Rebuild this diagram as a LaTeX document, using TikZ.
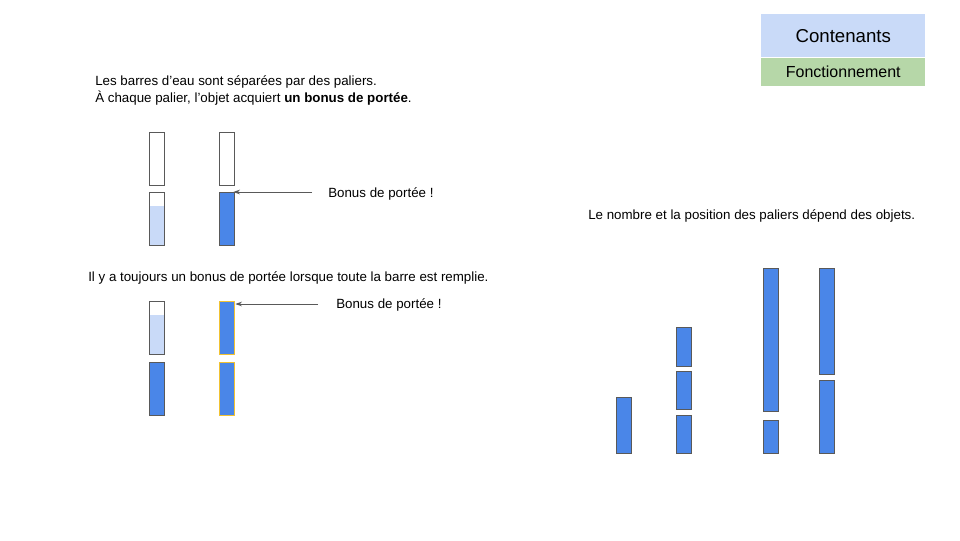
\documentclass[tikz,border=0pt]{standalone}
\usepackage{fontspec}
\setmainfont{Liberation Sans}
\usetikzlibrary{arrows.meta}
\definecolor{barblue}{HTML}{4A86E8}
\definecolor{lightblue}{HTML}{C9DAF8}
\definecolor{lightgreen}{HTML}{B6D7A8}
\definecolor{rim}{HTML}{595959}
\definecolor{gold}{HTML}{F1C232}
\begin{document}
\begin{tikzpicture}[x=0.75pt,y=-0.75pt,
  bar/.style={draw=rim,line width=1pt,rectangle,inner sep=0pt,anchor=north west,minimum width=11.25pt},
  full/.style={bar,fill=barblue},
  gilded/.style={full,draw=gold},
  txt/.style={font=\fontsize{10}{12.75}\selectfont,inner sep=0pt,anchor=west},
  ptr/.style={-{Stealth[length=5pt,width=3.5pt]},draw=rim,line width=0.6pt}]
\useasboundingbox (0,0) rectangle (960,540);
% legend
\node[fill=lightblue,anchor=north west,minimum width=164*0.75pt,minimum height=43*0.75pt,font=\fontsize{14}{16}\selectfont] (cont) at (761,14) {Contenants};
\node[fill=lightgreen,anchor=north,minimum width=164*0.75pt,minimum height=28*0.75pt,font=\fontsize{12}{14}\selectfont] (fonc) at (cont.south) {Fonctionnement};
% texts
\node[txt,align=left] (intro) at (95,90.5) {Les barres d’eau sont séparées par des paliers.\\À chaque palier, l’objet acquiert \textbf{un bonus de portée}.};
\node[txt] (bonus1) at (328,194) {Bonus de portée !};
\node[txt] (rule) at (88,278) {Il y a toujours un bonus de portée lorsque toute la barre est remplie.};
\node[txt] (bonus2) at (336,305) {Bonus de portée !};
\node[txt] (depend) at (588,216) {Le nombre et la position des paliers dépend des objets.};
% first pair
\fill[lightblue] (149,206) rectangle (164,245);
\node[bar,minimum height=53*0.75pt] (A1) at (149,132) {};
\node[bar,minimum height=53*0.75pt] (A2) at (149,192) {};
\node[bar,minimum height=53*0.75pt] (B1) at (219,132) {};
\node[full,minimum height=53*0.75pt] (B2) at (219,192) {};
% second pair
\fill[lightblue] (149,315) rectangle (164,354);
\node[bar,minimum height=53*0.75pt] (C1) at (149,301) {};
\node[full,minimum height=53*0.75pt] (C2) at (149,362) {};
\node[gilded,minimum height=53*0.75pt] (D1) at (219,301) {};
\node[gilded,minimum height=53*0.75pt] (D2) at (219,362) {};
% pointers
\draw[ptr] ([xshift=-12pt]bonus1.west |- B2.north east) -- ([xshift=-1.5pt]B2.north east);
\draw[ptr] ([xshift=-13.5pt,yshift=-2.25pt]bonus2.west |- D1.north east) -- ([yshift=-2.25pt]D1.north east);
% objects
\node[full,minimum height=56*0.75pt] (R1) at (616,397) {};
\node[full,minimum height=39*0.75pt] (R2a) at (676,327) {};
\node[full,minimum height=38*0.75pt] (R2b) at (676,371) {};
\node[full,minimum height=38*0.75pt] (R2c) at (676,415) {};
\node[full,minimum height=143*0.75pt] (R3a) at (763,268) {};
\node[full,minimum height=33*0.75pt] (R3b) at (763,420) {};
\node[full,minimum height=106*0.75pt] (R4a) at (819,268) {};
\node[full,minimum height=73*0.75pt] (R4b) at (819,380) {};
\end{tikzpicture}
\end{document}
